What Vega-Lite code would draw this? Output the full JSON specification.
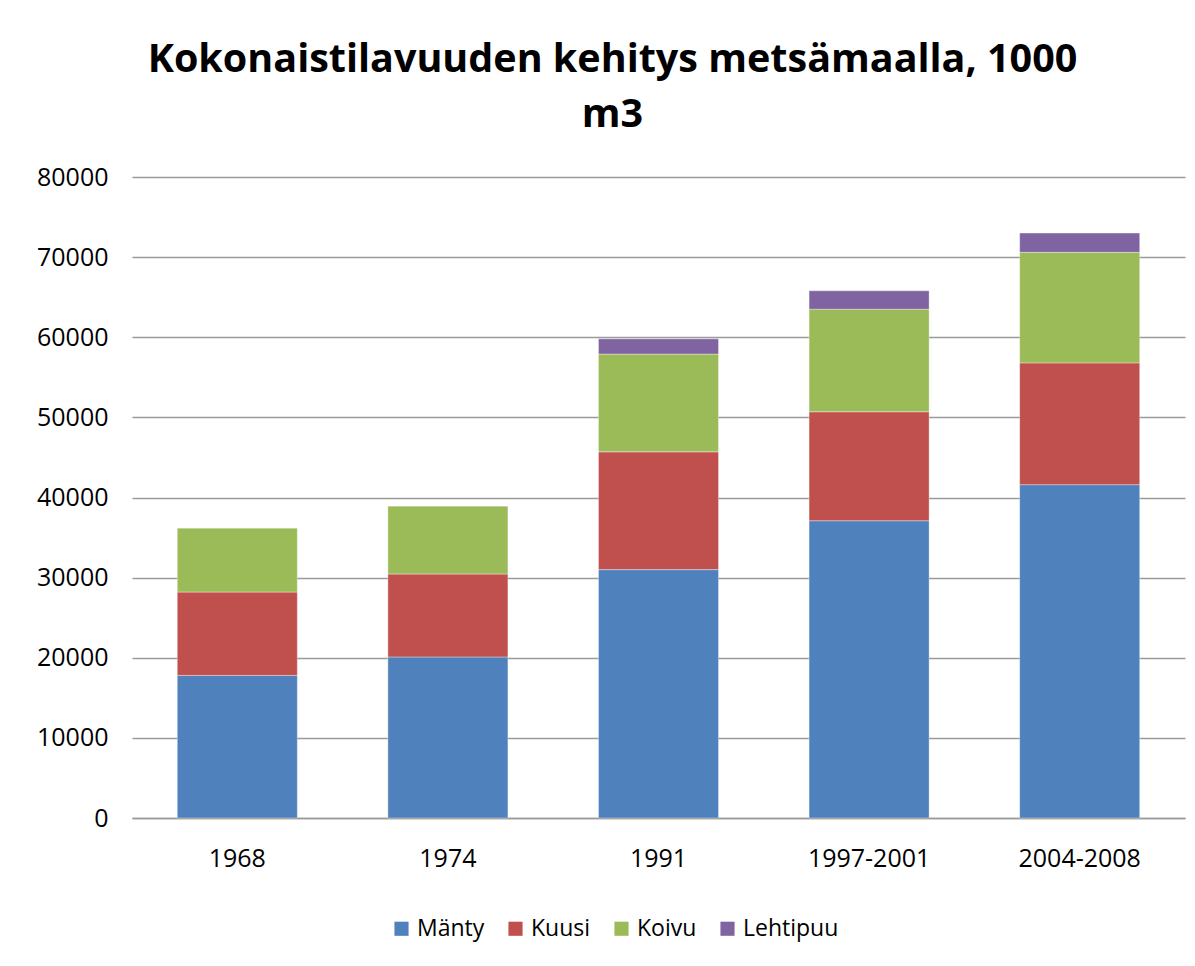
{
  "$schema": "https://vega.github.io/schema/vega-lite/v6.json",
  "autosize": {"type": "none"},
  "width": 1053,
  "height": 641,
  "padding": {"left": 132, "top": 177, "right": 10, "bottom": 148},
  "background": "white",
  "title": {
    "text": ["Kokonaistilavuuden kehitys metsämaalla, 1000", "m3"],
    "font": "Open Sans",
    "fontSize": 39.5,
    "fontWeight": "bold",
    "color": "#000000",
    "anchor": "middle",
    "dx": -46,
    "offset": 30,
    "lineHeight": 55
  },
  "data": {
    "values": [
      {"period": "1968", "species": "Mänty", "value": 17800, "ord": 1},
      {"period": "1968", "species": "Kuusi", "value": 10400, "ord": 2},
      {"period": "1968", "species": "Koivu", "value": 8000, "ord": 3},
      {"period": "1968", "species": "Lehtipuu", "value": 0, "ord": 4},
      {"period": "1974", "species": "Mänty", "value": 20100, "ord": 1},
      {"period": "1974", "species": "Kuusi", "value": 10350, "ord": 2},
      {"period": "1974", "species": "Koivu", "value": 8500, "ord": 3},
      {"period": "1974", "species": "Lehtipuu", "value": 0, "ord": 4},
      {"period": "1991", "species": "Mänty", "value": 31000, "ord": 1},
      {"period": "1991", "species": "Kuusi", "value": 14700, "ord": 2},
      {"period": "1991", "species": "Koivu", "value": 12200, "ord": 3},
      {"period": "1991", "species": "Lehtipuu", "value": 1900, "ord": 4},
      {"period": "1997-2001", "species": "Mänty", "value": 37100, "ord": 1},
      {"period": "1997-2001", "species": "Kuusi", "value": 13600, "ord": 2},
      {"period": "1997-2001", "species": "Koivu", "value": 12800, "ord": 3},
      {"period": "1997-2001", "species": "Lehtipuu", "value": 2300, "ord": 4},
      {"period": "2004-2008", "species": "Mänty", "value": 41600, "ord": 1},
      {"period": "2004-2008", "species": "Kuusi", "value": 15200, "ord": 2},
      {"period": "2004-2008", "species": "Koivu", "value": 13800, "ord": 3},
      {"period": "2004-2008", "species": "Lehtipuu", "value": 2400, "ord": 4}
    ]
  },
  "mark": {"type": "bar", "stroke": "#ffffff", "strokeWidth": 0.6, "strokeOpacity": 0.6},
  "encoding": {
    "x": {
      "field": "period",
      "type": "nominal",
      "sort": null,
      "scale": {"paddingInner": 0.43, "paddingOuter": 0.215},
      "axis": {
        "title": null,
        "labelAngle": 0,
        "labelFont": "Open Sans",
        "labelFontSize": 25,
        "labelColor": "#000000",
        "labelPadding": 28,
        "ticks": false,
        "domainColor": "#9a9a9a",
        "domainWidth": 1.5,
        "grid": false
      }
    },
    "y": {
      "field": "value",
      "type": "quantitative",
      "stack": "zero",
      "scale": {"domain": [0, 80000], "nice": false},
      "axis": {
        "title": null,
        "values": [0, 10000, 20000, 30000, 40000, 50000, 60000, 70000, 80000],
        "format": "d",
        "labelFont": "Open Sans",
        "labelFontSize": 25,
        "labelColor": "#000000",
        "labelPadding": 24,
        "ticks": false,
        "domain": false,
        "grid": true,
        "gridColor": "#9a9a9a",
        "gridWidth": 1.5
      }
    },
    "color": {
      "field": "species",
      "type": "nominal",
      "scale": {
        "domain": ["Mänty", "Kuusi", "Koivu", "Lehtipuu"],
        "range": ["#4F81BD", "#C0504D", "#9BBB59", "#8064A2"]
      },
      "legend": {
        "title": null,
        "orient": "none",
        "direction": "horizontal",
        "legendX": 258,
        "legendY": 740,
        "symbolType": "square",
        "symbolSize": 200,
        "symbolStrokeWidth": 0,
        "labelFont": "Open Sans",
        "labelFontSize": 23,
        "labelColor": "#000000",
        "columnPadding": 19,
        "labelOffset": 4
      }
    },
    "order": {"field": "ord", "type": "quantitative"}
  },
  "config": {"view": {"stroke": null}}
}
